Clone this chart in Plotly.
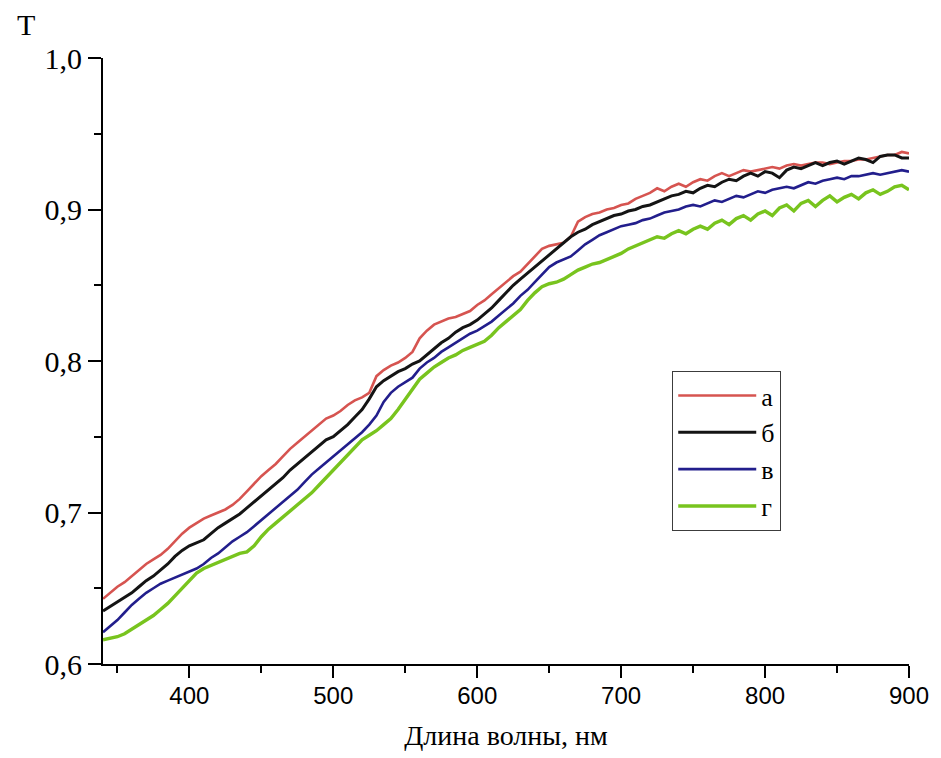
import plotly.graph_objects as go

wavelength = [
    340, 345, 350, 355, 360, 365, 370, 375, 380, 385,
    390, 395, 400, 405, 410, 415, 420, 425, 430, 435,
    440, 445, 450, 455, 460, 465, 470, 475, 480, 485,
    490, 495, 500, 505, 510, 515, 520, 525, 530, 535,
    540, 545, 550, 555, 560, 565, 570, 575, 580, 585,
    590, 595, 600, 605, 610, 615, 620, 625, 630, 635,
    640, 645, 650, 655, 660, 665, 670, 675, 680, 685,
    690, 695, 700, 705, 710, 715, 720, 725, 730, 735,
    740, 745, 750, 755, 760, 765, 770, 775, 780, 785,
    790, 795, 800, 805, 810, 815, 820, 825, 830, 835,
    840, 845, 850, 855, 860, 865, 870, 875, 880, 885,
    890, 895, 900,
]

T_a = [
    .643, .647, .651, .654, .658, .662, .666, .669, .672, .676,
    .681, .686, .690, .693, .696, .698, .700, .702, .705, .709,
    .714, .719, .724, .728, .732, .737, .742, .746, .750, .754,
    .758, .762, .764, .767, .771, .774, .776, .779, .790, .794,
    .797, .799, .802, .806, .815, .820, .824, .826, .828, .829,
    .831, .833, .837, .840, .844, .848, .852, .856, .859, .864,
    .869, .874, .876, .877, .878, .882, .892, .895, .897, .898,
    .900, .901, .903, .904, .907, .909, .911, .914, .912, .915,
    .917, .915, .918, .920, .919, .922, .924, .922, .924, .926,
    .925, .926, .927, .928, .927, .929, .930, .929, .930, .931,
    .931, .930, .931, .932, .932, .933, .933, .934, .935, .936,
    .936, .938, .937,
]

T_b = [
    .635, .638, .641, .644, .647, .651, .655, .658, .662, .666,
    .671, .675, .678, .680, .682, .686, .690, .693, .696, .699,
    .703, .707, .711, .715, .719, .723, .728, .732, .736, .740,
    .744, .748, .750, .754, .758, .763, .768, .775, .783, .787,
    .790, .793, .795, .798, .800, .804, .808, .812, .815, .819,
    .822, .824, .827, .831, .835, .840, .845, .850, .854, .858,
    .862, .866, .870, .874, .878, .882, .885, .887, .890, .892,
    .894, .896, .897, .899, .900, .902, .903, .905, .907, .909,
    .910, .912, .911, .914, .916, .915, .918, .920, .919, .922,
    .924, .922, .925, .924, .921, .926, .928, .927, .929, .931,
    .929, .931, .932, .930, .932, .934, .933, .931, .935, .936,
    .936, .934, .934,
]

T_v = [
    .621, .625, .629, .634, .639, .643, .647, .650, .653, .655,
    .657, .659, .661, .663, .666, .670, .673, .677, .681, .684,
    .687, .691, .695, .699, .703, .707, .711, .715, .720, .725,
    .729, .733, .737, .741, .745, .749, .753, .758, .764, .773,
    .779, .783, .786, .789, .795, .799, .802, .806, .809, .812,
    .815, .818, .820, .823, .826, .830, .834, .838, .843, .847,
    .852, .857, .862, .865, .867, .869, .873, .877, .880, .883,
    .885, .887, .889, .890, .891, .893, .894, .896, .898, .899,
    .900, .902, .903, .902, .904, .906, .905, .907, .909, .908,
    .910, .912, .911, .913, .914, .915, .914, .916, .918, .917,
    .919, .920, .921, .920, .922, .922, .923, .924, .923, .924,
    .925, .926, .925,
]

T_g = [
    .616, .617, .618, .620, .623, .626, .629, .632, .636, .640,
    .645, .650, .655, .660, .663, .665, .667, .669, .671, .673,
    .674, .678, .684, .689, .693, .697, .701, .705, .709, .713,
    .718, .723, .728, .733, .738, .743, .748, .751, .754, .758,
    .762, .768, .775, .782, .788, .792, .796, .799, .802, .804,
    .807, .809, .811, .813, .817, .822, .826, .830, .834, .840,
    .845, .849, .851, .852, .854, .857, .860, .862, .864, .865,
    .867, .869, .871, .874, .876, .878, .880, .882, .881, .884,
    .886, .884, .887, .889, .887, .891, .893, .890, .894, .896,
    .893, .897, .899, .896, .901, .903, .899, .904, .906, .902,
    .906, .909, .905, .908, .910, .907, .911, .913, .910, .912,
    .915, .916, .913,
]

series_names = ["а", "б", "в", "г"]
series_values = [T_a, T_b, T_v, T_g]
series_colors = ["rgb(214,84,80)", "rgb(20,20,20)", "rgb(34,30,140)", "rgb(120,196,30)"]
series_widths = [2.6, 3.0, 2.6, 3.4]

x_ticks = [400, 500, 600, 700, 800, 900]
y_ticks = [0.6, 0.7, 0.8, 0.9, 1.0]
y_ticktext = ["0,6", "0,7", "0,8", "0,9", "1,0"]

for s in series_values:
    assert len(s) == len(wavelength)

SERIF = "Liberation Serif, Times New Roman, serif"
SANS = "Liberation Sans, Arial, sans-serif"

fig = go.Figure()
for name, vals, col, w in zip(series_names, series_values, series_colors, series_widths):
    fig.add_trace(go.Scatter(x=wavelength, y=vals, mode="lines", name=name,
                             line=dict(color=col, width=w)))

fig.update_layout(
    width=933, height=750,
    margin=dict(l=95, r=26, t=50, b=92),
    paper_bgcolor="white", plot_bgcolor="white",
    showlegend=True,
    legend=dict(x=0.706, y=0.4836, xanchor="left", yanchor="top",
                bgcolor="white", bordercolor="rgb(60,60,60)", borderwidth=1.2,
                font=dict(family=SERIF, size=26, color="black"),
                itemwidth=78, tracegroupgap=0),
    annotations=[dict(text="T", xref="paper", yref="paper", x=-0.095, y=1.056,
                      xanchor="center", yanchor="middle", showarrow=False,
                      font=dict(family=SERIF, size=30, color="black"))],
)

fig.update_xaxes(
    range=[340, 900], tickvals=x_ticks, ticks="outside", ticklen=12, tickwidth=2,
    tickcolor="black", showline=True, linecolor="black", linewidth=2,
    showgrid=False, zeroline=False, ticklabelstandoff=-3,
    tickfont=dict(family=SANS, size=24, color="black"),
    minor=dict(dtick=50, tick0=350, ticks="outside", ticklen=7, tickwidth=2, tickcolor="black", showgrid=False),
    title=dict(text="Длина волны, нм", font=dict(family=SERIF, size=28, color="black"), standoff=18),
)
fig.update_yaxes(
    range=[0.6, 1.0], tickvals=y_ticks, ticktext=y_ticktext, ticks="outside", ticklen=13,
    tickwidth=2, tickcolor="black", showline=True, linecolor="black", linewidth=2,
    showgrid=False, zeroline=False,
    tickfont=dict(family=SERIF, size=30, color="black"),
    minor=dict(dtick=0.05, tick0=0.65, ticks="outside", ticklen=7, tickwidth=2, tickcolor="black", showgrid=False),
)

fig.write_html("out.html")
